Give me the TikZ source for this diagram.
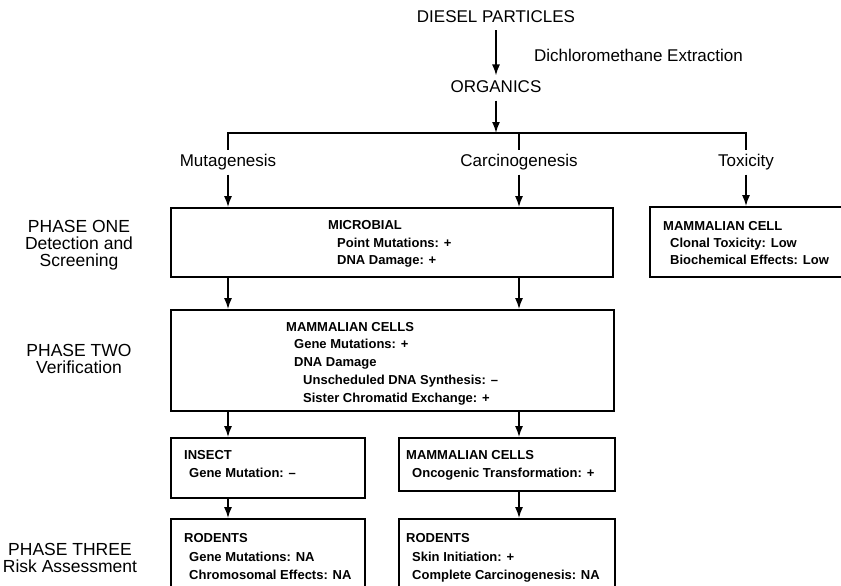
\documentclass[tikz,border=0pt]{standalone}
\usepackage{fontspec}
\setmainfont{Liberation Sans}
\usetikzlibrary{arrows.meta,calc}

\begin{document}
\begin{tikzpicture}[x=1pt, y=-1pt,
    box/.style={draw, line width=1.7pt, inner sep=0pt},
    head/.style={font=\fontsize{17}{20}\selectfont, inner sep=0pt, outer sep=5pt, text height=12pt, text depth=3pt},
    phase/.style={font=\fontsize{17.5}{17}\selectfont, align=center},
    item/.style={font=\bfseries\fontsize{13}{15}\selectfont, anchor=base west, inner sep=0pt},
    arr/.style={-{Latex[length=11pt,width=8pt]}, line width=1.7pt},
    link/.style={line width=1.7pt}]
    \useasboundingbox (0,0) rectangle (841,586);
    \clip (0,0) rectangle (841,586);

    % Top of the tree
    \node[head] (diesel) at (496,18) {DIESEL PARTICLES};
    \node[head, anchor=west] (extract) at (529,57) {Dichloromethane Extraction};
    \node[head] (org) at (496,88) {ORGANICS};
    \coordinate (split) at (496,133);

    % Branches
    \node[head] (mut) at (228,162) {Mutagenesis};
    \node[head] (carc) at (519,162) {Carcinogenesis};
    \node[head] (tox) at (746,162) {Toxicity};

    % Phase labels
    \node[phase] (p1) at (79,245) {PHASE ONE\\Detection and\\Screening};
    \node[phase] (p2) at (79,358.5) {PHASE TWO\\Verification};
    \node[phase] (p3) at (70,558) {PHASE THREE\\Risk Assessment};

    % Boxes
    \node[box, minimum width=442pt, minimum height=69pt] (micro) at (392,242.5) {};
    \node[box, minimum width=210pt, minimum height=70pt] (cell) at (755,242) {};
    \node[box, minimum width=443pt, minimum height=101pt] (mamm) at (392.5,360.5) {};
    \node[box, minimum width=194pt, minimum height=60pt] (insect) at (268,468) {};
    \node[box, minimum width=216pt, minimum height=53pt] (onco) at (507,464.5) {};
    \node[box, minimum width=194pt, minimum height=91pt] (rodL) at (268,564.5) {};
    \node[box, minimum width=216pt, minimum height=91pt] (rodR) at (507,564.5) {};

    % Box texts
    \node[item] (microT) at (328,229.5) {MICROBIAL};
    \node[item] (microA) at (337,247.5) {Point Mutations: +};
    \node[item] (microB) at (337,264.5) {DNA Damage: +};

    \node[item] (cellT) at (663,230.5) {MAMMALIAN CELL};
    \node[item] (cellA) at (670,247.5) {Clonal Toxicity: Low};
    \node[item] (cellB) at (670,264.5) {Biochemical Effects: Low};

    \node[item] (mammT) at (286,331.5) {MAMMALIAN CELLS};
    \node[item] (mammA) at (294,348.5) {Gene Mutations: +};
    \node[item] (mammB) at (294,366.5) {DNA Damage};
    \node[item] (mammC) at (303,384.5) {Unscheduled DNA Synthesis: --};
    \node[item] (mammD) at (303,402.5) {Sister Chromatid Exchange: +};

    \node[item] (insectT) at (184,459.5) {INSECT};
    \node[item] (insectA) at (189,477.5) {Gene Mutation: --};

    \node[item] (oncoT) at (406,459.5) {MAMMALIAN CELLS};
    \node[item] (oncoA) at (412,477.5) {Oncogenic Transformation: +};

    \node[item] (rodLT) at (184,542.5) {RODENTS};
    \node[item] (rodLA) at (189,561.5) {Gene Mutations: NA};
    \node[item] (rodLB) at (189,579.5) {Chromosomal Effects: NA};

    \node[item] (rodRT) at (406,542.5) {RODENTS};
    \node[item] (rodRA) at (412,561.5) {Skin Initiation: +};
    \node[item] (rodRB) at (412,579.5) {Complete Carcinogenesis: NA};

    % Connectors
    \draw[arr] (diesel) -- (org);
    \draw[arr] (org) -- (split);
    \draw[link] (mut.north) -- (mut |- split) -- (tox |- split) -- (tox.north);
    \draw[link] (carc.north) -- (carc |- split);
    \draw[arr] (mut) -- (mut |- micro.north);
    \draw[arr] (carc) -- (carc |- micro.north);
    \draw[arr] (tox) -- (tox |- cell.north);
    \draw[arr] (mut |- micro.south) -- (mut |- mamm.north);
    \draw[arr] (carc |- micro.south) -- (carc |- mamm.north);
    \draw[arr] (mut |- mamm.south) -- (mut |- insect.north);
    \draw[arr] (carc |- mamm.south) -- (carc |- onco.north);
    \draw[arr] (mut |- insect.south) -- (mut |- rodL.north);
    \draw[arr] (carc |- onco.south) -- (carc |- rodR.north);
\end{tikzpicture}
\end{document}
